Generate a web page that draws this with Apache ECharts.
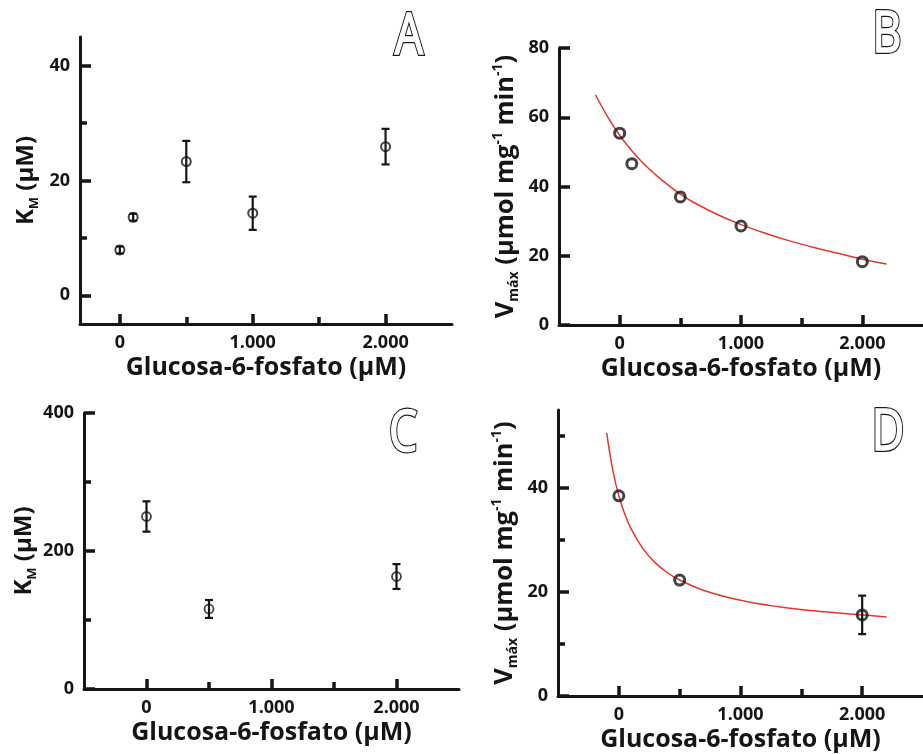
<!DOCTYPE html>
<html><head><meta charset="utf-8">
<script src="https://cdn.jsdelivr.net/npm/echarts@6/dist/echarts.min.js"></script>
<style>html,body{margin:0;padding:0;background:#fff}#c{width:923px;height:754px}</style>
</head><body><div id="c"></div>
<script>
// ---- tick values ----
const xMajorTicks = [0, 1000, 2000];
const xMinorTicks = [500, 1500];
const aYMajor = [0, 20, 40];
const aYMinor = [10, 30];
const bYMajor = [0, 20, 40, 60, 80];
const cYMajor = [0, 200, 400];
const cYMinor = [100, 300];
const dYMajor = [0, 20, 40];
const dYMinor = [10, 30, 50];

// ---- Panel A: KM vs G6P ----
const aX = [0, 100, 500, 1000, 2000];
const aKm = [7.9, 13.6, 23.3, 14.3, 25.9];
const aErr = [0.6, 0.6, 3.6, 2.9, 3.1];

// ---- Panel B: Vmax vs G6P ----
const bX = [0, 100, 500, 1000, 2000];
const bVmax = [55.4, 46.6, 37.0, 28.6, 18.3];
const bFitX = [-200, -100, 0, 100, 200, 300, 400, 500, 600, 800, 1000, 1200, 1400, 1600, 1800, 2000, 2200];
const bFitY = [66.5, 60.2, 54.8, 50.3, 46.5, 43.3, 40.4, 37.8, 35.6, 32.0, 29.0, 26.5, 24.3, 22.4, 20.7, 19.0, 17.6];

// ---- Panel C: KM vs G6P ----
const cX = [0, 500, 2000];
const cKm = [250, 116, 163];
const cErr = [22, 13, 18];

// ---- Panel D: Vmax vs G6P ----
const dX = [0, 500, 2000];
const dVmax = [38.5, 22.3, 15.6];
const dErr = [0, 0, 3.7];
const dFitX = [-100, -50, 0, 50, 100, 200, 300, 400, 500, 700, 1000, 1300, 1600, 2000, 2200];
const dFitY = [50.6, 43.5, 38.5, 34.9, 32.2, 28.3, 25.6, 23.7, 22.3, 20.3, 18.4, 17.2, 16.4, 15.6, 15.2];

const xTitle = 'Glucosa-6-fosfato (µM)';
const panelLetters = ['A', 'B', 'C', 'D'];

const fam = '"Open Sans", "DejaVu Sans", sans-serif';
const ink = '#151515';

function makeRich(big, small) {
  return {
    t: {fontFamily: fam, fontSize: big, fontWeight: 'bold', color: ink, lineHeight: 30},
    s: {fontFamily: fam, fontSize: small, fontWeight: 'bold', color: ink, lineHeight: 17, verticalAlign: 'bottom'},
    p: {fontFamily: fam, fontSize: small, fontWeight: 'bold', color: ink, lineHeight: 17, verticalAlign: 'top'}
  };
}
const kmName = '{t|K}{s|M}{t| (µM)}';
const vName = '{t|V}{s|máx}{t| (µmol mg}{p|-1}{t| min}{p|-1}{t|)}';

function fmtX(v) {
  if (v === 0) return '0';
  return Math.round(v / 1000) + '.000';
}

const grids = [
  {left: 80, top: 37, width: 372, height: 287},
  {left: 559, top: 48, width: 367, height: 277},
  {left: 84, top: 413, width: 375, height: 276},
  {left: 558, top: 410, width: 367, height: 286}
];
const xRanges = [[-300, 2500], [-500, 2500], [-500, 2500], [-500, 2500]];
const yRanges = [[-5, 45], [0, 80], [0, 400], [0, 55]];
const yMaj = [aYMajor, bYMajor, cYMajor, dYMajor];
const yMin = [aYMinor, [], cYMinor, dYMinor];
const yNames = [kmName, vName, kmName, vName];
const yRich = [makeRich(24, 13), makeRich(25.5, 14), makeRich(24, 13), makeRich(25.5, 14)];
const yGaps = [39, 38, 43, 38];

const xAxes = [], yAxes = [];
for (let p = 0; p < 4; p++) {
  xAxes.push({
    gridIndex: p, type: 'value', min: xRanges[p][0], max: xRanges[p][1], position: 'bottom',
    axisLine: {show: true, onZero: false, lineStyle: {color: ink, width: 3}},
    axisTick: {show: true, inside: true, length: 10, customValues: xMajorTicks, lineStyle: {color: ink, width: 3.5}},
    axisLabel: {customValues: xMajorTicks, formatter: fmtX, color: ink, fontSize: 18, fontWeight: 'bold', fontFamily: fam, margin: 10},
    splitLine: {show: false},
    name: xTitle, nameLocation: 'middle', nameGap: 31,
    nameTextStyle: {fontFamily: fam, fontSize: 25, fontWeight: 'bold', color: ink}
  });
  xAxes.push({
    gridIndex: p, type: 'value', min: xRanges[p][0], max: xRanges[p][1], position: 'bottom',
    axisLine: {show: false, onZero: false},
    axisTick: {show: true, inside: true, length: 7, customValues: xMinorTicks, lineStyle: {color: ink, width: 3.5}},
    axisLabel: {show: false}, splitLine: {show: false}
  });
  yAxes.push({
    gridIndex: p, type: 'value', min: yRanges[p][0], max: yRanges[p][1], position: 'left',
    axisLine: {show: true, onZero: false, lineStyle: {color: ink, width: 3}},
    axisTick: {show: true, inside: true, length: 11, customValues: yMaj[p], lineStyle: {color: ink, width: 3.5}},
    axisLabel: {customValues: yMaj[p], color: ink, fontSize: 18, fontWeight: 'bold', fontFamily: fam, margin: 10},
    splitLine: {show: false},
    name: yNames[p], nameLocation: 'middle', nameGap: yGaps[p],
    nameTextStyle: {rich: yRich[p]}
  });
  yAxes.push({
    gridIndex: p, type: 'value', min: yRanges[p][0], max: yRanges[p][1], position: 'left',
    axisLine: {show: false, onZero: false},
    axisTick: {show: yMin[p].length > 0, inside: true, length: 7, customValues: yMin[p].length ? yMin[p] : [yRanges[p][0]], lineStyle: {color: ink, width: 3.5}},
    axisLabel: {show: false}, splitLine: {show: false}
  });
}

function errSeries(p, xs, ys, errs) {
  return {
    type: 'custom', xAxisIndex: 2 * p, yAxisIndex: 2 * p, z: 4, silent: true,
    encode: {x: 0, y: [1, 2]},
    data: xs.map((x, i) => [x, ys[i] - errs[i], ys[i] + errs[i]]).filter((d, i) => errs[i] > 0),
    renderItem: function (params, api) {
      const lo = api.coord([api.value(0), api.value(1)]);
      const hi = api.coord([api.value(0), api.value(2)]);
      const w = 4;
      const st = {stroke: ink, lineWidth: 2.2};
      return {type: 'group', children: [
        {type: 'line', shape: {x1: lo[0], y1: lo[1], x2: hi[0], y2: hi[1]}, style: st},
        {type: 'line', shape: {x1: lo[0] - w, y1: lo[1], x2: lo[0] + w, y2: lo[1]}, style: st},
        {type: 'line', shape: {x1: hi[0] - w, y1: hi[1], x2: hi[0] + w, y2: hi[1]}, style: st}
      ]};
    }
  };
}
function ptSeries(p, xs, ys, bw, size) {
  return {
    type: 'scatter', xAxisIndex: 2 * p, yAxisIndex: 2 * p, z: 5, silent: true,
    symbol: 'circle', symbolSize: size,
    itemStyle: {color: 'rgba(255,255,255,0)', borderColor: ink, borderWidth: bw},
    data: xs.map((x, i) => [x, ys[i]])
  };
}
function fitSeries(p, xs, ys) {
  return {
    type: 'line', xAxisIndex: 2 * p, yAxisIndex: 2 * p, z: 3, silent: true,
    smooth: 0.4, showSymbol: false, symbol: 'none',
    lineStyle: {color: '#e2382e', width: 1.5},
    data: xs.map((x, i) => [x, ys[i]])
  };
}

const letterPos = [[409, 38], [887, 36], [403, 435], [888, 434]];
const graphic = [];
panelLetters.forEach((L, i) => {
  const base = {type: 'text', x: letterPos[i][0], y: letterPos[i][1], scaleX: 0.8, silent: true};
  graphic.push(Object.assign({}, base, {z: 10,
    style: {text: L, fontFamily: fam, fontSize: 56, fontWeight: 'normal', fill: '#fff', stroke: '#1a1a1a', lineWidth: 4, align: 'center', verticalAlign: 'middle'}}));
  graphic.push(Object.assign({}, base, {z: 11,
    style: {text: L, fontFamily: fam, fontSize: 56, fontWeight: 'normal', fill: '#fff', stroke: '#fff', lineWidth: 1.6, align: 'center', verticalAlign: 'middle'}}));
});

const option = {
  backgroundColor: '#fff',
  animation: false,
  grid: grids,
  xAxis: xAxes,
  yAxis: yAxes,
  graphic: graphic,
  series: [
    errSeries(0, aX, aKm, aErr), ptSeries(0, aX, aKm, 2, 9),
    fitSeries(1, bFitX, bFitY), ptSeries(1, bX, bVmax, 3, 10),
    errSeries(2, cX, cKm, cErr), ptSeries(2, cX, cKm, 1.8, 9),
    fitSeries(3, dFitX, dFitY), errSeries(3, dX, dVmax, dErr), ptSeries(3, dX, dVmax, 3, 10)
  ]
};
const chart = echarts.init(document.getElementById('c'), null, {renderer: 'canvas'});
chart.setOption(option);
</script></body></html>
